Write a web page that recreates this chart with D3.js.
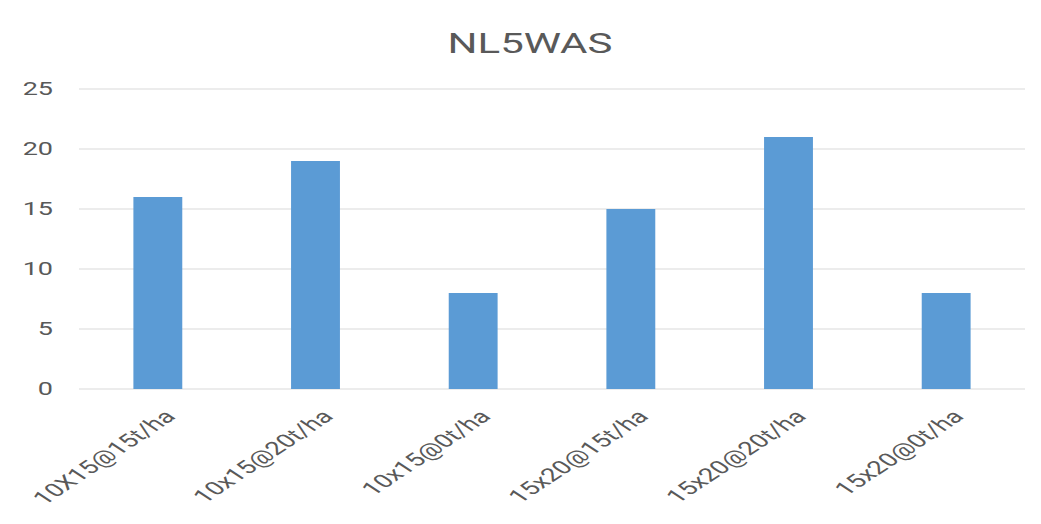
<!DOCTYPE html>
<html>
<head>
<meta charset="utf-8">
<script src="https://cdn.jsdelivr.net/npm/d3@7"></script>
<style>
  html, body { margin: 0; padding: 0; background: #ffffff; }
  svg { display: block; }
  text { font-family: Roboto, "Noto Sans", sans-serif; fill: #595959; }
</style>
</head>
<body>
<svg id="chart" width="1041" height="524"></svg>
<script>
// Chart data
const title = "NL5WAS";
const categories = ["10X15@15t/ha", "10x15@20t/ha", "10x15@0t/ha", "15x20@15t/ha", "15x20@20t/ha", "15x20@0t/ha"];
const values = [16, 19, 8, 15, 21, 8];
const yTicks = [0, 5, 10, 15, 20, 25];

const W = 1041, H = 524;
const margin = { top: 89, right: 16, bottom: 135, left: 79 };
const stretch = 1.5; // wide text face

const svg = d3.select("#chart");

const x = d3.scaleBand()
  .domain(categories)
  .range([margin.left, W - margin.right])
  .paddingInner(0.69)
  .paddingOuter(0.345);

const y = d3.scaleLinear()
  .domain([0, 25])
  .range([H - margin.bottom, margin.top]);

// Horizontal gridlines
svg.append("g")
  .selectAll("line")
  .data(yTicks)
  .join("line")
  .attr("x1", margin.left)
  .attr("x2", W - margin.right)
  .attr("y1", d => y(d))
  .attr("y2", d => y(d))
  .attr("stroke", "#d9d9d9")
  .attr("stroke-width", 1.2);

// Y axis labels
svg.append("g")
  .selectAll("text")
  .data(yTicks)
  .join("text")
  .attr("transform", d => `translate(53,${y(d)}) scale(${stretch},1)`)
  .attr("dy", "0.35em")
  .attr("text-anchor", "end")
  .attr("font-size", 18)
  .text(d => d);

// Bars
svg.append("g")
  .selectAll("rect")
  .data(values)
  .join("rect")
  .attr("x", (d, i) => x(categories[i]))
  .attr("width", x.bandwidth())
  .attr("y", d => y(d))
  .attr("height", d => y(0) - y(d))
  .attr("fill", "#5b9bd5");

// Category labels, slanted
svg.append("g")
  .selectAll("text")
  .data(categories)
  .join("text")
  .attr("transform", d => `translate(${x(d) + x.bandwidth() / 2 + 12},${y(0) + 24}) scale(${stretch},1) rotate(-45)`)
  .attr("dy", "0.35em")
  .attr("text-anchor", "end")
  .attr("font-size", 18.5)
  .text(d => d);

// Title
svg.append("text")
  .attr("transform", `translate(530,53) scale(${stretch},1)`)
  .attr("text-anchor", "middle")
  .attr("font-size", 28)
  .text(title);
</script>
</body>
</html>
